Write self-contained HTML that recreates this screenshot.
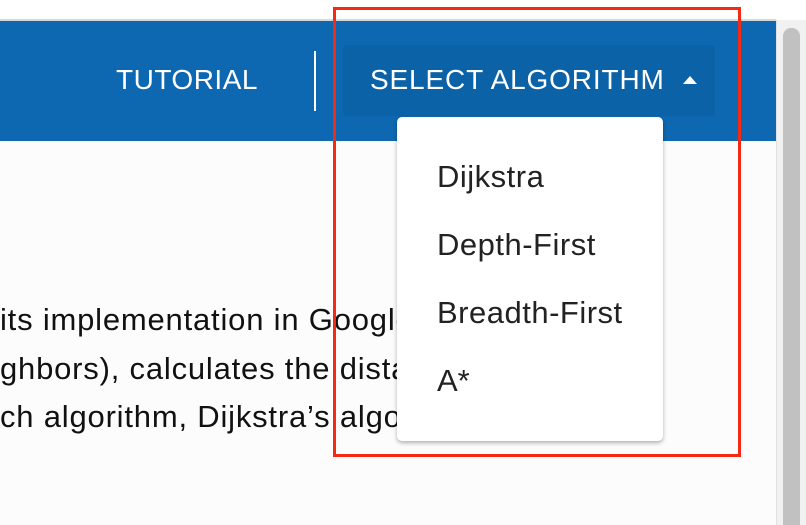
<!DOCTYPE html>
<html><head><style>
body{margin:0;width:806px;height:525px;position:relative;overflow:hidden;background:#fcfcfc;font-family:"Liberation Sans",sans-serif}
div,span{position:absolute}
.t{white-space:nowrap}
</style></head><body>
<div style="left:0;top:0;width:806px;height:20px;background:#fff"></div>
<div style="left:0;top:19px;width:776px;height:2px;background:#d8d8d8"></div>
<div style="left:0;top:21px;width:776px;height:120px;background:#0d68b1"></div>
<span class="t" style="left:0;top:302px;font-size:31px;color:#111;letter-spacing:0.8px">its implementation in Google</span>
<span class="t" style="left:0;top:351px;font-size:31px;color:#111;letter-spacing:0.8px">ghbors), calculates the distance</span>
<span class="t" style="left:0;top:399px;font-size:31px;color:#111;letter-spacing:0.8px">ch algorithm, Dijkstra’s algorithm</span>
<div style="left:776px;top:20px;width:30px;height:505px;background:#f1f1f1;border-left:1px solid #e0e0e0"></div>
<div style="left:783px;top:28px;width:17px;height:497px;background:#c1c1c1;border-radius:8px 8px 0 0"></div>
<span class="t" style="left:116px;top:64px;font-size:28px;color:#fff;letter-spacing:0.5px">TUTORIAL</span>
<div style="left:314px;top:51px;width:2px;height:60px;background:#fff"></div>
<div style="left:343px;top:45px;width:372px;height:71px;background:#0c62a6;border-radius:4px"></div>
<span class="t" style="left:370px;top:64px;font-size:28px;color:#fff;letter-spacing:0.85px">SELECT ALGORITHM</span>
<div style="left:683px;top:76px;width:0;height:0;border-left:7px solid transparent;border-right:7px solid transparent;border-bottom:8px solid #fff"></div>
<div style="left:397px;top:117px;width:266px;height:324px;background:#fff;border-radius:5px;box-shadow:0 2px 4px rgba(0,0,0,0.3)"></div>
<span class="t" style="left:437px;top:159px;font-size:31px;color:#222;letter-spacing:0.5px">Dijkstra</span>
<span class="t" style="left:437px;top:227px;font-size:31px;color:#222;letter-spacing:0.5px">Depth-First</span>
<span class="t" style="left:437px;top:295px;font-size:31px;color:#222;letter-spacing:0.5px">Breadth-First</span>
<span class="t" style="left:437px;top:363px;font-size:31px;color:#222">A*</span>
<div style="left:333px;top:7px;width:402px;height:444px;border:3px solid #f52a14"></div>
</body></html>
